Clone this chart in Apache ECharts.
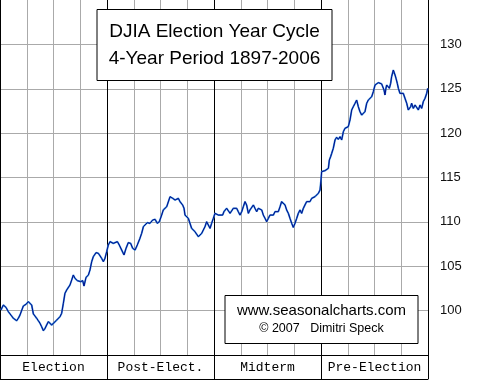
<!DOCTYPE html>
<html>
<head>
<meta charset="utf-8">
<script src="https://cdn.jsdelivr.net/npm/echarts@6/dist/echarts.min.js"></script>
<style>html,body{margin:0;padding:0;background:#fff}#c{width:480px;height:380px}</style>
</head>
<body>
<div id="c"></div>
<script>
// Position in the 4-year cycle (years from start of election year)
var cycleYears = [0.009,0.031,0.056,0.078,0.093,0.109,0.125,0.140,0.156,0.171,0.187,0.203,0.218,0.243,0.265,0.280,0.296,0.312,0.327,0.343,0.358,0.374,0.389,0.405,0.421,0.436,0.452,0.467,0.483,0.498,0.530,0.561,0.576,0.592,0.607,0.623,0.654,0.670,0.685,0.701,0.723,0.741,0.754,0.773,0.785,0.804,0.826,0.841,0.857,0.872,0.897,0.919,0.935,0.950,0.966,0.981,0.997,1.012,1.028,1.059,1.075,1.097,1.115,1.137,1.159,1.178,1.199,1.221,1.240,1.262,1.283,1.308,1.324,1.340,1.355,1.377,1.402,1.427,1.449,1.470,1.489,1.511,1.526,1.558,1.589,1.614,1.636,1.667,1.682,1.707,1.720,1.729,1.745,1.760,1.776,1.791,1.807,1.822,1.838,1.854,1.869,1.885,1.900,1.916,1.931,1.947,1.963,1.978,1.994,2.009,2.025,2.040,2.056,2.081,2.093,2.118,2.134,2.150,2.165,2.181,2.196,2.212,2.227,2.243,2.259,2.274,2.290,2.305,2.321,2.336,2.352,2.368,2.383,2.399,2.414,2.430,2.446,2.461,2.477,2.492,2.508,2.523,2.539,2.555,2.570,2.586,2.601,2.617,2.632,2.648,2.664,2.679,2.695,2.710,2.726,2.741,2.757,2.773,2.788,2.804,2.819,2.835,2.850,2.866,2.882,2.897,2.913,2.928,2.944,2.960,2.975,2.991,3.000,3.006,3.022,3.037,3.053,3.069,3.078,3.090,3.100,3.115,3.131,3.146,3.162,3.178,3.193,3.209,3.224,3.240,3.255,3.271,3.287,3.302,3.318,3.333,3.349,3.364,3.380,3.396,3.411,3.427,3.442,3.458,3.474,3.489,3.505,3.520,3.536,3.551,3.567,3.583,3.589,3.598,3.607,3.614,3.629,3.639,3.651,3.660,3.676,3.692,3.701,3.713,3.723,3.738,3.754,3.769,3.785,3.801,3.816,3.826,3.838,3.847,3.863,3.879,3.894,3.910,3.925,3.941,3.956,3.972,3.988,3.997];
// Seasonal DJIA index value
var djia = [100.07,100.63,100.37,99.88,100.0,99.39,99.13,99.32,98.87,99.13,99.51,99.62,100.52,100.71,101.01,101.2,100.63,99.62,99.39,99.13,98.87,98.57,98.19,97.74,98.0,98.38,98.76,98.87,98.38,98.57,98.94,99.32,99.69,100.82,101.95,102.32,102.89,103.45,104.01,103.64,103.38,103.53,103.26,103.38,102.77,103.75,104.01,104.58,105.52,106.08,106.53,106.46,106.27,105.89,105.52,105.89,106.64,107.39,107.77,107.58,107.39,107.77,107.39,106.83,106.27,107.02,107.66,107.58,107.02,106.83,107.39,108.15,108.71,109.46,109.65,109.91,109.84,110.21,110.29,109.84,110.02,110.77,111.34,111.71,112.84,112.65,112.46,112.65,112.28,111.9,111.53,110.77,110.96,110.4,110.21,109.27,109.08,108.9,108.71,108.33,108.52,108.71,109.08,109.46,110.02,109.65,109.27,109.84,110.4,110.96,111.15,110.77,110.96,110.77,111.15,111.53,111.53,110.96,111.15,111.53,111.34,111.53,111.15,110.77,111.15,111.71,112.28,111.9,110.96,111.34,111.53,111.9,111.53,111.15,111.53,111.71,111.34,110.77,110.4,110.02,110.4,110.77,110.96,110.77,111.15,110.96,111.15,111.71,112.28,112.46,111.9,111.34,110.96,110.4,109.84,109.38,109.84,110.4,110.96,111.34,110.96,111.53,111.9,112.28,112.46,112.28,112.65,112.46,112.84,112.65,113.22,113.59,114.72,115.66,115.85,115.77,115.85,116.03,116.97,117.35,117.72,118.29,119.23,119.53,119.3,119.6,119.23,120.16,120.54,120.43,120.73,121.48,122.61,122.98,123.36,123.73,122.98,122.42,122.04,122.23,122.42,123.36,123.73,123.92,124.11,124.67,125.42,125.61,125.69,125.61,125.54,125.42,124.86,124.3,125.05,125.42,125.23,125.05,125.61,126.36,127.11,126.55,126.17,125.61,125.05,124.48,124.41,124.48,123.92,123.36,122.61,122.42,122.98,123.36,122.79,123.17,122.98,122.61,123.17,122.79,123.54,123.92,124.48,125.05];
var phases = ['Election', 'Post-Elect.', 'Midterm', 'Pre-Election'];
var yTicks = [100, 105, 110, 115, 120, 125, 130];

var seriesData = cycleYears.map(function (t, i) { return [t, djia[i]]; });

var chart = echarts.init(document.getElementById('c'), null, { renderer: 'canvas' });
chart.setOption({
  animation: false,
  backgroundColor: '#fff',
  title: [{
    text: 'DJIA Election Year Cycle\n4-Year Period 1897-2006',
    left: 202.5, top: 9,
    textAlign: 'center',
    padding: [9, 12, 9, 12],
    backgroundColor: '#fff', borderColor: '#000', borderWidth: 1,
    textStyle: { fontFamily: 'Liberation Sans, Arial, sans-serif', fontSize: 19, fontWeight: 'normal', color: '#000', lineHeight: 27 },
    z: 10
  }, {
    text: 'www.seasonalcharts.com',
    subtext: '\u00a9 2007   Dimitri Speck',
    left: 309.5, top: 295,
    textAlign: 'center',
    padding: [7, 12, 7, 12],
    itemGap: 1,
    backgroundColor: '#fff', borderColor: '#000', borderWidth: 1,
    textStyle: { fontFamily: 'Liberation Sans, Arial, sans-serif', fontSize: 15, fontWeight: 'normal', color: '#000', lineHeight: 18 },
    subtextStyle: { fontFamily: 'Liberation Sans, Arial, sans-serif', fontSize: 12.5, color: '#000', lineHeight: 16 },
    z: 10
  }],
  grid: [
    { left: 0, right: 52, top: 0, bottom: 25, show: false },
    { left: 0, right: 52, top: 355, height: 24, show: false }
  ],
  xAxis: [{
    type: 'value', gridIndex: 0, min: 0, max: 4, interval: 0.25,
    axisLine: { show: true, onZero: false, lineStyle: { color: '#000', width: 1 } },
    axisTick: { show: false }, axisLabel: { show: false },
    splitLine: { show: true, showMinLine: false, showMaxLine: false, lineStyle: { color: '#aaaaaa', width: 1 } }
  }, {
    type: 'value', gridIndex: 0, min: 0, max: 4, interval: 1,
    axisLine: { show: false }, axisTick: { show: false }, axisLabel: { show: false },
    splitLine: { show: true, lineStyle: { color: '#000', width: 1 } }
  }, {
    type: 'category', gridIndex: 1, data: phases, boundaryGap: true, position: 'bottom',
    axisLine: { show: true, lineStyle: { color: '#000', width: 1 } },
    axisTick: { show: false },
    splitLine: { show: true, interval: 0, lineStyle: { color: '#000', width: 1 } },
    axisLabel: { show: true, interval: 0, inside: true, margin: 11, verticalAlign: 'middle',
      fontFamily: 'Liberation Mono, DejaVu Sans Mono, monospace', fontSize: 13, color: '#000' }
  }],
  yAxis: [{
    type: 'value', gridIndex: 0, position: 'right', min: 95, max: 135, interval: 5,
    axisLine: { show: true, lineStyle: { color: '#000', width: 1 } },
    axisTick: { show: false },
    axisLabel: { show: true, margin: 12, color: '#111', fontFamily: 'Liberation Sans, Arial, sans-serif', fontSize: 13,
      formatter: function (v) { return yTicks.indexOf(v) >= 0 ? String(v) : ''; } },
    splitLine: { show: true, showMinLine: false, showMaxLine: false, lineStyle: { color: '#aaaaaa', width: 1 } }
  }, {
    type: 'value', gridIndex: 1, min: 0, max: 1, show: false
  }],
  series: [{
    type: 'line', xAxisIndex: 0, yAxisIndex: 0, data: seriesData,
    showSymbol: false, symbol: 'none', silent: true,
    lineStyle: { color: '#3a8fdc', width: 1.8 }, z: 3
  }, {
    type: 'line', xAxisIndex: 0, yAxisIndex: 0, data: seriesData,
    showSymbol: false, symbol: 'none', silent: true,
    lineStyle: { color: '#000c8a', width: 1.0 }, z: 4
  }]
});
</script>
</body>
</html>
